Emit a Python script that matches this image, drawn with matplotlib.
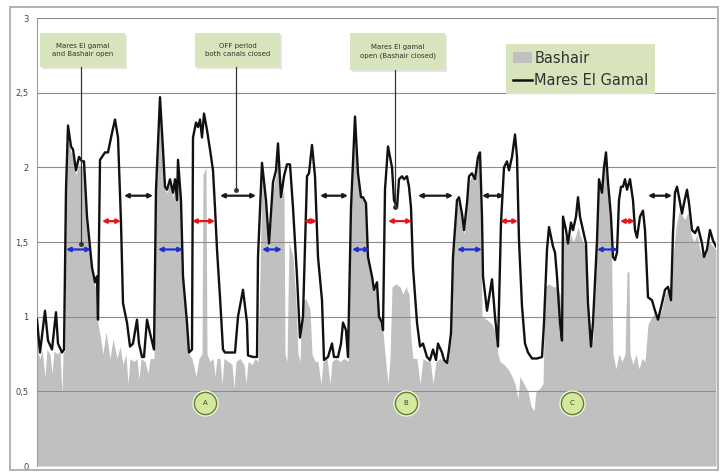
import matplotlib
matplotlib.use("Agg")
import matplotlib.pyplot as plt
from matplotlib.patches import Rectangle, Patch
from matplotlib.lines import Line2D

# ---------------- data ----------------
mares_t = [0,3,8,11,15,19,21,25,27,29,31,34,36,39,42,45,47,50,55,58,60,61,63,68,71,75,78,81,84,86,90,93,96,100,102,105,107,110,113,117,
           119,123,126,128,130,133,136,138,140,141,144,146,150,152,155,156,159,161,163,165,167,170,173,176,178,180,183,186,188,193,198,201,206,210,211,216,220,
           221,225,229,232,236,239,241,244,247,250,253,256,260,263,266,270,272,275,278,281,285,287,291,295,297,301,304,306,309,311,
           314,318,321,324,326,329,331,335,337,340,342,345,346,348,351,355,357,360,362,365,367,370,372,374,376,380,383,386,390,393,396,399,401,405,407,410,412,414,
           416,420,422,425,427,430,432,435,438,441,443,445,446,450,455,458,461,464,467,470,472,475,478,480,482,485,488,491,495,500,505,
           507,510,512,516,518,520,523,525,526,529,531,534,536,539,541,543,546,549,551,554,556,560,562,565,567,569,571,574,576,578,580,
           582,584,586,588,590,593,596,598,600,603,606,608,611,615,618,621,625,628,631,634,636,638,640,642,645,647,650,652,655,658,661,665,667,670,673,676,679]
mares_v = [0.98,0.76,1.04,0.84,0.78,1.03,0.82,0.76,0.78,1.85,2.28,2.14,2.12,1.98,2.07,2.04,2.04,1.67,1.33,1.23,1.27,0.98,2.05,2.10,2.10,2.23,2.32,2.20,1.63,1.09,0.96,0.80,0.82,0.98,0.82,0.73,0.73,0.98,0.89,0.78,
           1.85,2.47,2.12,1.87,1.85,1.92,1.83,1.92,1.78,2.05,1.78,1.27,0.96,0.76,0.78,2.20,2.30,2.27,2.32,2.20,2.36,2.25,2.12,1.98,1.73,1.45,1.13,0.78,0.76,0.76,0.76,1.00,1.18,0.96,0.74,0.73,0.73,
           1.40,2.03,1.78,1.49,1.90,1.98,2.16,1.80,1.94,2.02,2.02,1.73,1.27,0.86,1.00,1.94,1.96,2.15,1.94,1.40,1.11,0.71,0.73,0.82,0.73,0.73,0.82,0.96,0.91,0.73,
           1.73,2.34,1.96,1.80,1.80,1.76,1.40,1.27,1.18,1.23,1.00,0.96,0.91,1.85,2.14,2.00,1.78,1.73,1.92,1.94,1.92,1.94,1.87,1.73,1.33,0.96,0.80,0.82,0.73,0.71,0.78,0.71,0.82,0.76,0.71,0.69,0.78,0.89,
           1.40,1.78,1.80,1.69,1.58,1.76,1.94,1.96,1.92,2.07,2.10,1.67,1.27,1.04,1.25,1.00,0.80,1.63,2.00,2.04,1.98,2.07,2.22,2.07,1.51,1.07,0.82,0.76,0.72,0.72,0.73,
           0.96,1.45,1.60,1.47,1.43,1.27,0.96,0.84,1.67,1.58,1.49,1.63,1.58,1.67,1.80,1.67,1.58,1.49,1.09,0.80,0.96,1.51,1.92,1.83,2.00,2.10,1.90,1.67,1.40,1.38,1.43,
           1.78,1.87,1.87,1.92,1.85,1.92,1.78,1.58,1.53,1.67,1.71,1.58,1.13,1.11,1.04,0.98,1.09,1.18,1.20,1.11,1.56,1.83,1.87,1.80,1.69,1.76,1.85,1.76,1.58,1.56,1.60,1.49,1.40,1.45,1.58,1.51,1.47]

bashair_t = [0,3,5,8,10,13,15,17,20,23,25,26,28,29,31,34,36,39,42,45,47,50,55,58,60,61,63,66,69,73,76,80,83,86,89,91,93,97,100,102,104,108,111,113,117,
             119,123,126,128,130,133,136,138,140,141,144,146,150,152,155,159,162,165,166,169,170,173,176,178,180,183,185,187,191,195,197,199,203,207,209,211,215,218,221,
             223,225,229,232,236,239,241,244,247,248,250,252,256,259,261,263,265,269,273,275,278,281,284,286,290,293,295,299,303,307,311,
             314,318,321,324,326,329,331,335,337,340,342,345,346,348,351,353,355,359,363,366,369,372,374,376,380,383,386,390,393,396,399,403,407,410,412,414,
             416,420,422,425,427,430,432,435,438,441,443,445,450,455,458,461,463,467,471,475,478,481,483,487,491,494,497,499,503,506,
             508,512,516,520,523,525,526,529,531,534,536,539,541,543,546,549,551,553,556,560,562,565,567,569,571,574,576,579,582,585,588,590,592,593,596,599,602,605,608,
             611,615,618,621,625,628,631,634,636,639,642,645,648,651,654,657,660,663,666,669,672,675,679]
bashair_v = [0.78,0.72,0.78,0.60,0.78,0.75,0.62,0.77,0.75,0.77,0.48,0.75,0.78,1.85,2.20,2.10,2.08,1.95,2.02,2.00,1.98,1.65,1.32,1.20,1.20,0.95,0.88,0.75,0.90,0.72,0.85,0.72,0.80,0.68,0.75,0.55,0.72,0.70,0.72,0.58,0.72,0.70,0.62,0.72,0.72,
             1.85,2.40,2.10,1.85,1.83,1.90,1.80,1.90,1.76,2.00,1.76,1.25,0.95,0.75,0.72,0.60,0.72,0.75,1.95,2.00,0.75,0.70,0.72,0.60,0.72,0.72,0.55,0.72,0.70,0.68,0.52,0.70,0.72,0.68,0.55,0.70,0.68,0.72,0.70,
             1.30,1.95,1.75,1.45,1.85,1.95,2.10,1.78,1.85,0.75,0.70,1.50,1.40,1.10,0.75,0.70,1.10,1.12,1.05,0.75,0.70,0.70,0.55,0.70,0.72,0.55,0.70,0.72,0.70,0.72,0.70,
             1.70,2.30,1.95,1.80,1.80,1.75,1.40,1.27,1.18,1.20,1.00,0.95,0.90,0.75,0.55,0.72,1.20,1.22,1.20,1.15,1.20,1.15,0.85,0.72,0.72,0.55,0.72,0.70,0.72,0.55,0.70,0.72,0.70,0.70,0.75,0.85,
             1.40,1.75,1.78,1.65,1.55,1.75,1.90,1.95,1.90,2.05,2.05,1.00,0.98,0.95,0.90,0.75,0.70,0.68,0.65,0.60,0.55,0.45,0.60,0.55,0.50,0.40,0.37,0.50,0.52,0.55,
             1.20,1.22,1.20,1.20,1.15,0.90,1.55,1.52,1.48,1.55,1.50,1.55,1.60,1.55,1.50,1.45,1.05,0.80,0.85,1.50,1.90,1.82,2.00,2.08,1.88,1.65,0.75,0.65,0.75,0.70,0.75,1.30,1.30,0.75,0.68,0.75,0.65,0.72,0.70,
             0.95,1.00,1.02,0.98,1.05,1.15,1.18,1.10,1.40,1.60,1.70,1.68,1.65,1.70,1.55,1.50,1.55,1.45,1.40,1.42,1.50,1.48,1.45]

ytick_vals = [0, 0.5, 1, 1.5, 2, 2.5, 3]
ytick_labels = ["0", "0,5", "1", "1,5", "2", "2,5", "3"]

series_names = ["Bashair", "Mares El Gamal"]
box_texts = ["Mares El gamal\nand Bashair open", "OFF period\nboth canals closed", "Mares El gamal\nopen (Bashair closed)"]
circle_labels = ["A", "B", "C"]

# ---------------- figure ----------------
W, H = 720, 474
fig = plt.figure(figsize=(W / 100, H / 100), dpi=100)
fig.patch.set_facecolor("white")
# outer frame
fig.add_artist(Rectangle((10 / W, 4 / H), 708 / W, 463 / H, transform=fig.transFigure,
                         fill=False, edgecolor="#a6a6a6", lw=1.2))

ax = fig.add_axes([37 / W, 8 / H, 679 / W, 448 / H])
ax.set_xlim(0, 679)
ax.set_ylim(0, 3)

ax.fill_between(bashair_t, 0, bashair_v, color="#c0c0c0", lw=0, zorder=2)
ax.plot(mares_t, mares_v, color="#111111", lw=1.7, zorder=4, solid_joinstyle="round")

ax.set_yticks(ytick_vals)
ax.set_yticklabels(ytick_labels, fontsize=6, color="#404040")
ax.tick_params(axis="y", length=0, pad=6)
ax.set_xticks([])
ax.yaxis.grid(True, color="#8c8c8c", lw=0.8, zorder=3)
ax.set_axisbelow(False)
for s in ["top", "right", "bottom"]:
    ax.spines[s].set_visible(False)
ax.spines["left"].set_color("#a0a0a0")
ax.spines["left"].set_linewidth(0.8)

# ---------------- double arrows ----------------
def dbl(x0, x1, y, color):
    ax.annotate("", xy=(x1, y), xytext=(x0, y),
                arrowprops=dict(arrowstyle="<|-|>", color=color, lw=1.6,
                                mutation_scale=6, shrinkA=0, shrinkB=0), zorder=6)

for x0, x1 in [(87, 116), (183, 219), (283, 311), (381, 416), (445, 467), (611, 635)]:
    dbl(x0, x1, 1.81, "#1a1a1a")
for x0, x1 in [(65, 84), (155, 178), (267, 280), (351, 375), (463, 481), (583, 598)]:
    dbl(x0, x1, 1.64, "#e8141a")
for x0, x1 in [(29, 54), (121, 146), (225, 245), (315, 333), (420, 445), (560, 581)]:
    dbl(x0, x1, 1.45, "#1f2fd0")

# ---------------- annotation boxes ----------------
boxes = [(3, 85, 2.672, 0.228, 44, 1.487), (158, 85, 2.672, 0.228, 199, 1.848), (313, 95, 2.652, 0.248, 358, 1.734)]
for (bx, bw, by, bh, lx, ly), txt in zip(boxes, box_texts):
    ax.add_patch(Rectangle((bx + 1.5, by - 0.012), bw, bh, facecolor="#e4e4e4", edgecolor="none",
                           zorder=7, clip_on=False))
    ax.add_patch(Rectangle((bx, by), bw, bh, facecolor="#d8e4bc", edgecolor="none", zorder=8, clip_on=False))
    ax.text(bx + bw / 2, by + bh / 2, txt, ha="center", va="center", fontsize=5, color="#333333",
            zorder=9, linespacing=1.5)
    ax.plot([lx, lx], [by, ly], color="#333333", lw=0.9, zorder=7)
    ax.plot([lx], [ly], marker="o", ms=2.5, color="#333333", zorder=7)

# ---------------- circles ----------------
for cx, lab in zip([168, 369, 535], circle_labels):
    ax.plot([cx], [0.422], marker="o", ms=19, mfc="#eef5d8", mec="none", zorder=7)
    ax.plot([cx], [0.422], marker="o", ms=16, mfc="#d5e8a0", mec="#5f7f2f", mew=1.0, zorder=8)
    ax.text(cx, 0.422, lab, ha="center", va="center", fontsize=5, color="#2f4f0f", zorder=9)

# ---------------- legend ----------------
handles = [Patch(facecolor="#c0c0c0", edgecolor="none"), Line2D([0], [0], color="#111111", lw=1.8)]
leg = fig.legend(handles, series_names, loc="upper left", bbox_to_anchor=(506 / W, 1 - 44 / H),
                 bbox_transform=fig.transFigure, fontsize=10.5, frameon=True, fancybox=False,
                 handlelength=1.3, handletextpad=0.2, borderpad=0.45, labelspacing=0.5, borderaxespad=0)
leg.get_frame().set_facecolor("#d8e4bc")
leg.get_frame().set_edgecolor("none")
leg.get_frame().set_alpha(1)
for t in leg.get_texts():
    t.set_color("#333333")

fig.savefig("out.png", dpi=100)
